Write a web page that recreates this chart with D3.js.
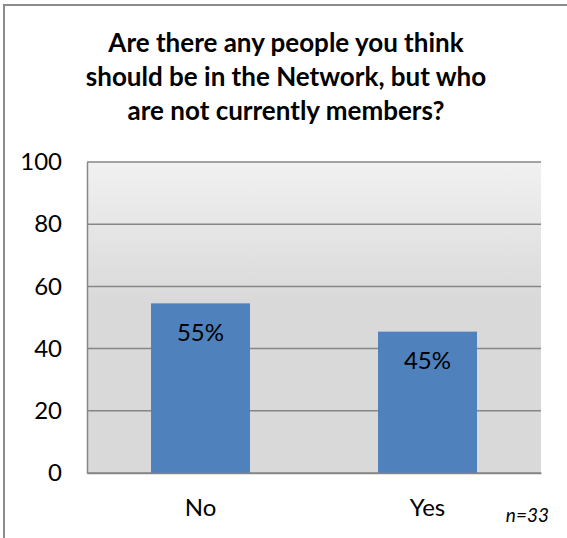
<!DOCTYPE html>
<html>
<head>
<meta charset="utf-8">
<script src="https://cdn.jsdelivr.net/npm/d3@7"></script>
<style>
  html, body { margin: 0; padding: 0; background: #fff; }
  svg { display: block; }
  text { font-family: Lato, "Open Sans", sans-serif; fill: #000; }
</style>
</head>
<body>
<svg id="chart" width="567" height="538"></svg>
<script>
// Survey answers: respondents per answer, out of n
const categories = ["No", "Yes"];
const counts = [18, 15];
const respondents = 33;
const percentValues = counts.map(c => c / respondents * 100);
const yTicks = [0, 20, 40, 60, 80, 100];
const titleLines = [
  "Are there any people you think",
  "should be in the Network, but who",
  "are not currently members?"
];

const svg = d3.select("#chart");
const W = 567, H = 538;
const plot = { left: 87, right: 541, top: 162, bottom: 473 };
const labelFont = 24;

// Chart frame (left and top edges visible)
svg.append("path")
  .attr("d", `M4,${H} L4,5 L${W},5`)
  .attr("fill", "none")
  .attr("stroke", "#8c8c8c")
  .attr("stroke-width", 2);

// Title
const title = svg.append("text")
  .attr("text-anchor", "middle")
  .attr("font-weight", "bold")
  .attr("font-size", 26);
titleLines.forEach((line, i) => {
  title.append("tspan")
    .attr("x", 286)
    .attr("y", 52 + i * 33.8)
    .text(line);
});

// Scales
const x = d3.scaleBand()
  .domain(categories)
  .range([plot.left, plot.right])
  .paddingInner(0.564)
  .paddingOuter(0.282);

const y = d3.scaleLinear()
  .domain([0, 100])
  .range([plot.bottom, plot.top]);

// Plot area background gradient
const defs = svg.append("defs");
const grad = defs.append("linearGradient")
  .attr("id", "plotBg")
  .attr("x1", 0).attr("y1", 0).attr("x2", 0).attr("y2", 1);
grad.append("stop").attr("offset", "0%").attr("stop-color", "#f1f1f1");
grad.append("stop").attr("offset", "45%").attr("stop-color", "#d9d9d9");
grad.append("stop").attr("offset", "100%").attr("stop-color", "#d9d9d9");

svg.append("rect")
  .attr("x", plot.left)
  .attr("y", plot.top)
  .attr("width", plot.right - plot.left)
  .attr("height", plot.bottom - plot.top)
  .attr("fill", "url(#plotBg)");

// Gridlines
svg.append("g")
  .selectAll("line")
  .data(yTicks)
  .join("line")
  .attr("x1", plot.left)
  .attr("x2", plot.right)
  .attr("y1", d => y(d))
  .attr("y2", d => y(d))
  .attr("stroke", "#868686")
  .attr("stroke-width", 1.5);

// Bars
svg.append("g")
  .selectAll("rect")
  .data(categories)
  .join("rect")
  .attr("x", d => x(d))
  .attr("width", x.bandwidth())
  .attr("y", (d, i) => y(percentValues[i]))
  .attr("height", (d, i) => y(0) - y(percentValues[i]))
  .attr("fill", "#4f81bd");

// Value axis
const yAxis = svg.append("g")
  .attr("transform", `translate(${plot.left},0)`)
  .call(d3.axisLeft(y).tickValues(yTicks).tickSize(0).tickPadding(25));
yAxis.select(".domain").attr("stroke", "#868686").attr("stroke-width", 1.5);
yAxis.selectAll("text")
  .attr("font-size", labelFont)
  .attr("font-family", "Lato, 'Open Sans', sans-serif")
  .attr("fill", "#000");

// Category axis
const xAxis = svg.append("g")
  .attr("transform", `translate(0,${plot.bottom})`)
  .call(d3.axisBottom(x).tickSize(0).tickPadding(26));
xAxis.select(".domain").attr("stroke", "#868686").attr("stroke-width", 1.5);
xAxis.selectAll("text")
  .attr("font-size", labelFont)
  .attr("font-family", "Lato, 'Open Sans', sans-serif")
  .attr("fill", "#000");

// Value labels inside the bars
svg.append("g")
  .selectAll("text")
  .data(categories)
  .join("text")
  .attr("x", d => x(d) + x.bandwidth() / 2)
  .attr("y", (d, i) => y(percentValues[i]) + 37.5)
  .attr("text-anchor", "middle")
  .attr("font-size", labelFont)
  .text((d, i) => Math.round(percentValues[i]) + "%");

// Sample size note
svg.append("text")
  .attr("x", 549)
  .attr("y", 522)
  .attr("text-anchor", "end")
  .attr("font-style", "italic")
  .attr("font-size", 19)
  .text("n=" + respondents);
</script>
</body>
</html>
